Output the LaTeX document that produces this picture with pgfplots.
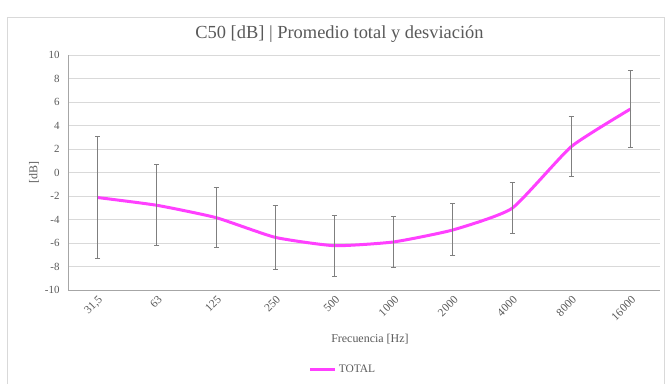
\documentclass[border=0pt]{standalone}
\usepackage{pgfplots}
\pgfplotsset{compat=1.18}
\usepackage{fontspec}
\setmainfont{Liberation Serif}

\definecolor{txtgray}{HTML}{595959}
\definecolor{gridgray}{HTML}{D9D9D9}
\definecolor{axgray}{HTML}{A6A6A6}
\definecolor{errgray}{HTML}{7F7F7F}
\definecolor{totalpink}{HTML}{FF40FF}

\begin{document}
\begin{tikzpicture}[x=1bp,y=1bp]
\useasboundingbox (0,0) rectangle (665,383);
\draw[gridgray, line width=0.8bp] (7.5,-5) rectangle (664.5,366);
\begin{axis}[
    at={(68bp,93bp)}, anchor=south west,
    scale only axis, width=592bp, height=235bp,
    xmin=-0.5, xmax=9.5, ymin=-10, ymax=10,
    axis x line*=bottom, axis y line*=left,
    axis line style={axgray, line width=0.8bp},
    xtick={0,...,9},
    xticklabels={{31,5},63,125,250,500,1000,2000,4000,8000,16000},
    ytick={-10,-8,...,10},
    yticklabels={-10,-8,-6,-4,-2,0,2,4,6,8,10},
    major tick length=0pt,
    ymajorgrids, grid style={gridgray, line width=0.8bp},
    tick label style={txtgray},
    yticklabel style={font=\fontsize{11}{13}\selectfont, xshift=-5bp},
    xticklabel style={font=\fontsize{11.5}{13}\selectfont, rotate=45, anchor=east, yshift=-8bp, xshift=0bp},
    title={C50 [dB] | Promedio total y desviación},
    title style={txtgray, font=\fontsize{18.5}{22}\selectfont, at={(axis description cs:0.4586,1.064)}, anchor=center},
    xlabel={Frecuencia [Hz]},
    xlabel style={txtgray, font=\fontsize{12}{14}\selectfont, at={(axis description cs:0.51,-0.21)}, anchor=center},
    ylabel={[dB]},
    ylabel style={txtgray, font=\fontsize{12}{14}\selectfont, at={(axis description cs:-0.0574,0.5)}, anchor=center},
    legend style={at={(axis description cs:0.4645,-0.34)}, anchor=center, draw=none, fill=none,
        font=\fontsize{11.5}{13}\selectfont, text=txtgray, inner sep=0pt},
    legend cell align=left,
    legend image code/.code={\draw[#1] (0bp,0bp) -- (25bp,0bp);},
]
\addplot[totalpink, line width=3bp, smooth, tension=0.3] coordinates {
  (0,-2.13) (1,-2.79) (2,-3.84) (3,-5.52) (4,-6.23)
  (5,-5.91) (6,-4.89) (7,-3.05) (8,2.20) (9,5.40)
};
\addlegendentry{TOTAL}
\addplot[draw=none, mark=none, forget plot,
    error bars/.cd, y dir=both, y explicit,
    error bar style={errgray, line width=1bp},
    error mark options={errgray, rotate=90, mark size=2.5bp, line width=1bp}]
  coordinates {
  (0,-2.13) +- (0,5.21)
  (1,-2.79) +- (0,3.45)
  (2,-3.84) +- (0,2.58)
  (3,-5.52) +- (0,2.74)
  (4,-6.23) +- (0,2.58)
  (5,-5.91) +- (0,2.20)
  (6,-4.89) +- (0,2.21)
  (7,-3.05) +- (0,2.16)
  (8,2.20) +- (0,2.58)
  (9,5.40) +- (0,3.25)
};
\end{axis}
\end{tikzpicture}
\end{document}
